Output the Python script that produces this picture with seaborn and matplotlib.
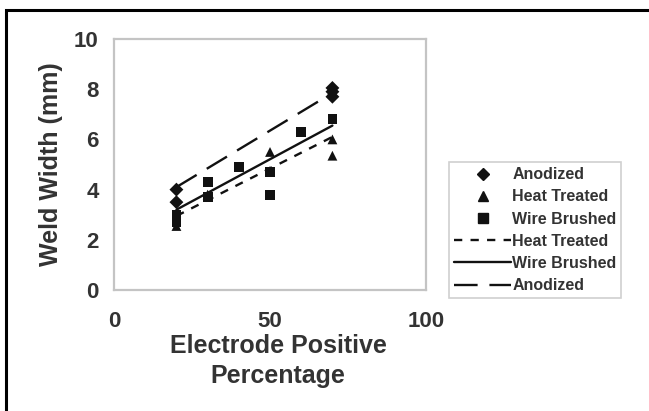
import matplotlib
matplotlib.use("Agg")
import matplotlib.pyplot as plt
import pandas as pd
import seaborn as sns
from matplotlib.lines import Line2D
from matplotlib.patches import Rectangle

anodized_x = [20, 20, 70, 70, 70]
anodized_y = [4.0, 3.5, 8.05, 7.9, 7.7]
heat_x = [20, 30, 50, 50, 70, 70]
heat_y = [2.55, 3.8, 5.5, 4.75, 6.0, 5.35]
wire_x = [20, 20, 30, 30, 40, 50, 50, 60, 70]
wire_y = [3.0, 2.7, 4.3, 3.7, 4.9, 3.8, 4.7, 6.3, 6.8]

# trend lines (end points)
fit_x = [20, 70]
heat_fit = [2.95, 6.1]
wire_fit = [3.2, 6.55]
anodized_fit = [4.1, 7.85]

x_ticks = [0, 50, 100]
y_ticks = [0, 2, 4, 6, 8, 10]

points = pd.concat([
    pd.DataFrame({"x": anodized_x, "y": anodized_y, "group": "Anodized"}),
    pd.DataFrame({"x": heat_x, "y": heat_y, "group": "Heat Treated"}),
    pd.DataFrame({"x": wire_x, "y": wire_y, "group": "Wire Brushed"}),
])

sns.set_style("white")
plt.rcParams["font.family"] = ["Liberation Sans", "DejaVu Sans"]
plt.rcParams["font.weight"] = "bold"

text_col = "#333333"
mark_col = "#111111"
frame_col = "#c4c4c4"

fig = plt.figure(figsize=(6.49, 4.11), dpi=100)
ax = fig.add_axes([0.1757, 0.2944, 0.4807, 0.6107])

markers = {"Anodized": "D", "Heat Treated": "^", "Wire Brushed": "s"}
sns.scatterplot(data=points, x="x", y="y", style="group", markers=markers,
                color=mark_col, s=50, edgecolor=mark_col, linewidth=0,
                legend=False, ax=ax)

sns.lineplot(x=fit_x, y=heat_fit, color=mark_col, lw=1.7, ax=ax,
             dashes=False).lines[-1].set_dashes((3.5, 3.5))
sns.lineplot(x=fit_x, y=wire_fit, color=mark_col, lw=1.7, ax=ax)
sns.lineplot(x=fit_x, y=anodized_fit, color=mark_col, lw=1.7, ax=ax,
             dashes=False).lines[-1].set_dashes((10, 5))

ax.set_xlim(0, 100)
ax.set_ylim(0, 10)
ax.set_xticks(x_ticks)
ax.set_yticks(y_ticks)
ax.tick_params(axis="both", direction="out", length=4, width=1.2,
               color=frame_col, labelsize=16, labelcolor=text_col, pad=7)
ax.tick_params(axis="x", pad=11)
for s in ax.spines.values():
    s.set_color(frame_col)
    s.set_linewidth(1.6)

ax.set_xlabel("Electrode Positive\nPercentage", fontsize=18,
              color=text_col, fontweight="bold", linespacing=1.3)
ax.xaxis.set_label_coords(0.526, -0.175)
ax.set_ylabel("Weld Width (mm)", fontsize=18, color=text_col,
              fontweight="bold", labelpad=8)

handles = [
    Line2D([], [], ls="none", marker="D", color=mark_col, ms=6.5),
    Line2D([], [], ls="none", marker="^", color=mark_col, ms=7.5),
    Line2D([], [], ls="none", marker="s", color=mark_col, ms=6.5),
    Line2D([], [], color=mark_col, lw=1.7, dashes=(3.5, 3.5)),
    Line2D([], [], color=mark_col, lw=1.7),
    Line2D([], [], color=mark_col, lw=1.7, dashes=(10, 5)),
]
labels = ["Anodized", "Heat Treated", "Wire Brushed",
          "Heat Treated", "Wire Brushed", "Anodized"]
leg = fig.legend(handles, labels, loc="lower left",
                 bbox_to_anchor=(0.692, 0.275), fontsize=11.5,
                 frameon=True, fancybox=False, handlelength=3.6,
                 handletextpad=0.05, labelspacing=0.45, borderpad=0.3,
                 borderaxespad=0)
leg.get_frame().set_edgecolor(frame_col)
leg.get_frame().set_linewidth(1.2)
for t in leg.get_texts():
    t.set_color(text_col)
    t.set_fontweight("bold")

# outer black border (picture is cropped on right and bottom)
fig.patches.append(Rectangle((0.009, -0.1), 1.2, 1.076, transform=fig.transFigure,
                             fill=False, edgecolor="black", lw=2.2))

fig.savefig("out.png", dpi=100)
